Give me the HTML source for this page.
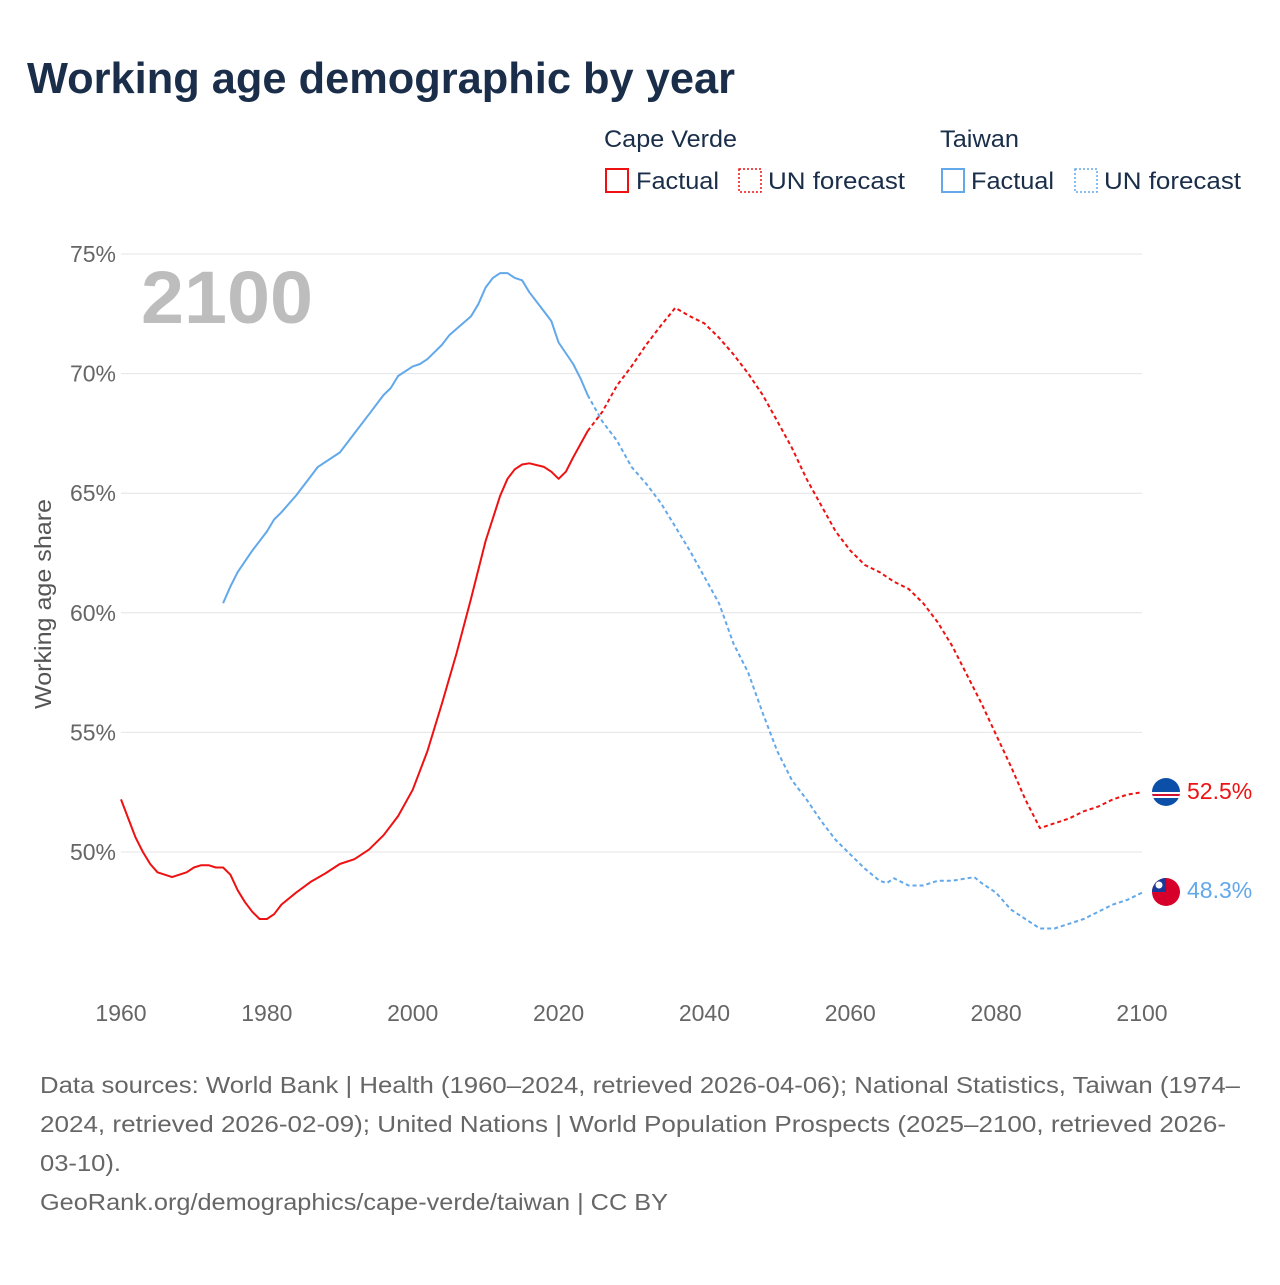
<!DOCTYPE html>
<html><head><meta charset="utf-8"><style>
body{margin:0;background:#fff;font-family:"Liberation Sans",sans-serif;}
svg text{font-family:"Liberation Sans",sans-serif;}
</style></head><body>
<svg id="chart" width="1280" height="1280" viewBox="0 0 1280 1280" xmlns="http://www.w3.org/2000/svg">
<rect width="1280" height="1280" fill="#fff"/>
<text x="27" y="93" font-size="44" font-weight="bold" fill="#1a2e4a" textLength="708" lengthAdjust="spacingAndGlyphs">Working age demographic by year</text>
<g font-size="24" fill="#1a2e4a">
<text x="604" y="147" textLength="133" lengthAdjust="spacingAndGlyphs">Cape Verde</text>
<text x="940" y="147" textLength="79" lengthAdjust="spacingAndGlyphs">Taiwan</text>
<g><rect x="606" y="169" width="22" height="23" fill="none" stroke="#ee1111" stroke-width="2"/><text x="636" y="189" textLength="83" lengthAdjust="spacingAndGlyphs">Factual</text></g>
<g><rect x="739" y="169" width="22" height="23" fill="none" stroke="#ee1111" stroke-width="1.5" stroke-dasharray="2,2"/><text x="768" y="189" textLength="137" lengthAdjust="spacingAndGlyphs">UN forecast</text></g>
<g><rect x="942" y="169" width="22" height="23" fill="none" stroke="#62a8ea" stroke-width="2"/><text x="971" y="189" textLength="83" lengthAdjust="spacingAndGlyphs">Factual</text></g>
<g><rect x="1075" y="169" width="22" height="23" fill="none" stroke="#62a8ea" stroke-width="1.5" stroke-dasharray="2,2"/><text x="1104" y="189" textLength="137" lengthAdjust="spacingAndGlyphs">UN forecast</text></g>
</g>
<g id="grid"></g>
<text x="141" y="323" font-size="74" font-weight="bold" fill="#bdbdbd" textLength="172" lengthAdjust="spacingAndGlyphs">2100</text>
<text transform="translate(51,604) rotate(-90)" text-anchor="middle" font-size="23" fill="#555" textLength="210" lengthAdjust="spacingAndGlyphs">Working age share</text>
<g id="series"></g>
<g>
<g>
<clipPath id="c1"><circle cx="1166" cy="792" r="14"/></clipPath>
<g clip-path="url(#c1)"><rect x="1150" y="776" width="32" height="32" fill="#0b4fa8"/><rect x="1150" y="792" width="32" height="6" fill="#fff"/><rect x="1150" y="794" width="32" height="2" fill="#d21034"/></g></g>
<text x="1187" y="799" font-size="23" fill="#ee1111">52.5%</text>
<g>
<clipPath id="c2"><circle cx="1166" cy="892" r="14"/></clipPath>
<g clip-path="url(#c2)"><rect x="1150" y="876" width="32" height="32" fill="#d6002a"/><rect x="1150" y="876" width="16" height="16" fill="#1a3a99"/><circle cx="1159" cy="885" r="3.5" fill="#fff"/></g></g>
<text x="1187" y="898" font-size="23" fill="#62a8ea">48.3%</text>
</g>
<g font-size="23" fill="#666">
<text x="40" y="1093" textLength="1200" lengthAdjust="spacingAndGlyphs">Data sources: World Bank | Health (1960–2024, retrieved 2026-04-06); National Statistics, Taiwan (1974–</text>
<text x="40" y="1132" textLength="1186" lengthAdjust="spacingAndGlyphs">2024, retrieved 2026-02-09); United Nations | World Population Prospects (2025–2100, retrieved 2026-</text>
<text x="40" y="1171" textLength="81" lengthAdjust="spacingAndGlyphs">03-10).</text>
<text x="40" y="1210" textLength="628" lengthAdjust="spacingAndGlyphs">GeoRank.org/demographics/cape-verde/taiwan | CC BY</text>
</g>
</svg>
<script>
const yTicks=[50,55,60,65,70,75];
const yTickLabels=["50%","55%","60%","65%","70%","75%"];
const xTicks=[1960,1980,2000,2020,2040,2060,2080,2100];
const cvYears=[1960,1961,1962,1963,1964,1965,1966,1967,1968,1969,1970,1971,1972,1973,1974,1975,1976,1977,1978,1979,1980,1981,1982,1984,1986,1988,1990,1992,1994,1996,1998,2000,2002,2004,2006,2008,2010,2012,2013,2014,2015,2016,2018,2019,2020,2021,2022,2024];
const cvValues=[52.2,51.4,50.6,50.0,49.5,49.15,49.05,48.95,49.05,49.15,49.35,49.45,49.45,49.35,49.35,49.05,48.4,47.9,47.5,47.2,47.2,47.4,47.8,48.3,48.75,49.1,49.5,49.7,50.1,50.7,51.5,52.6,54.2,56.2,58.3,60.6,63.0,64.9,65.6,66.0,66.2,66.25,66.1,65.9,65.6,65.9,66.5,67.6];
const cvFcYears=[2024,2026,2028,2030,2032,2034,2036,2038,2040,2042,2044,2046,2048,2050,2052,2054,2056,2058,2060,2062,2064,2066,2068,2070,2072,2074,2076,2078,2080,2082,2084,2086,2088,2090,2092,2094,2096,2098,2100];
const cvFcValues=[67.6,68.4,69.5,70.3,71.2,72.0,72.75,72.4,72.1,71.5,70.8,70.0,69.1,68.0,66.9,65.6,64.5,63.4,62.6,62.0,61.7,61.3,61.0,60.4,59.6,58.6,57.4,56.2,54.9,53.6,52.2,51.0,51.2,51.4,51.7,51.9,52.2,52.4,52.5];
const twYears=[1974,1975,1976,1978,1980,1981,1982,1984,1986,1987,1990,1991,1992,1994,1996,1997,1998,2000,2001,2002,2004,2005,2008,2009,2010,2011,2012,2013,2014,2015,2016,2018,2019,2020,2022,2023,2024];
const twValues=[60.4,61.1,61.7,62.6,63.4,63.9,64.2,64.9,65.7,66.1,66.7,67.1,67.5,68.3,69.1,69.4,69.9,70.3,70.4,70.6,71.2,71.6,72.4,72.9,73.6,74.0,74.2,74.2,74.0,73.9,73.4,72.6,72.2,71.3,70.4,69.8,69.1];
const twFcYears=[2024,2026,2028,2030,2032,2034,2036,2038,2040,2042,2044,2046,2048,2050,2052,2054,2056,2058,2060,2062,2064,2065,2066,2068,2070,2072,2074,2076,2077,2078,2080,2082,2084,2086,2088,2090,2092,2094,2096,2098,2100];
const twFcValues=[69.1,68.0,67.2,66.1,65.4,64.6,63.6,62.6,61.5,60.4,58.7,57.5,55.8,54.2,53.0,52.2,51.3,50.5,49.9,49.3,48.8,48.7,48.9,48.6,48.6,48.8,48.8,48.9,48.95,48.7,48.3,47.6,47.2,46.8,46.8,47.0,47.2,47.5,47.8,48.0,48.3];
const NS="http://www.w3.org/2000/svg";
const x=v=>121+(v-1960)*(1021/140);
const y=v=>852-(v-50)*(598/25);
const grid=document.getElementById('grid');
yTicks.forEach((t,i)=>{
  const l=document.createElementNS(NS,'line');
  l.setAttribute('x1',121);l.setAttribute('x2',1142);l.setAttribute('y1',y(t));l.setAttribute('y2',y(t));
  l.setAttribute('stroke','#e4e4e4');l.setAttribute('stroke-width','1');
  
  
  grid.appendChild(l);
  const tx=document.createElementNS(NS,'text');
  tx.setAttribute('x',116);tx.setAttribute('y',y(t)+8);tx.setAttribute('text-anchor','end');
  tx.setAttribute('font-size','23');tx.setAttribute('fill','#666');tx.textContent=yTickLabels[i];
  
  
  grid.appendChild(tx);
});
xTicks.forEach(t=>{
  const tx=document.createElementNS(NS,'text');
  tx.setAttribute('x',x(t));tx.setAttribute('y',1021);tx.setAttribute('text-anchor','middle');
  tx.setAttribute('font-size','23');tx.setAttribute('fill','#666');tx.textContent=t;
  
  
  grid.appendChild(tx);
});
const series=document.getElementById('series');
function line(xs,vs,color,dash,name){
  const p=document.createElementNS(NS,'path');
  p.setAttribute('d',xs.map((a,i)=>(i?'L':'M')+x(a).toFixed(1)+','+y(vs[i]).toFixed(1)).join(''));
  p.setAttribute('fill','none');p.setAttribute('stroke',color);p.setAttribute('stroke-width','2');
  p.setAttribute('stroke-linejoin','round');
  if(dash)p.setAttribute('stroke-dasharray','4,3');
  
  
  series.appendChild(p);
}
line(twYears,twValues,'#62a8ea',false,'taiwan-factual-line');
line(twFcYears,twFcValues,'#62a8ea',true,'taiwan-forecast-line');
line(cvYears,cvValues,'#ee1111',false,'cape-verde-factual-line');
line(cvFcYears,cvFcValues,'#ee1111',true,'cape-verde-forecast-line');
</script>
</body></html>
